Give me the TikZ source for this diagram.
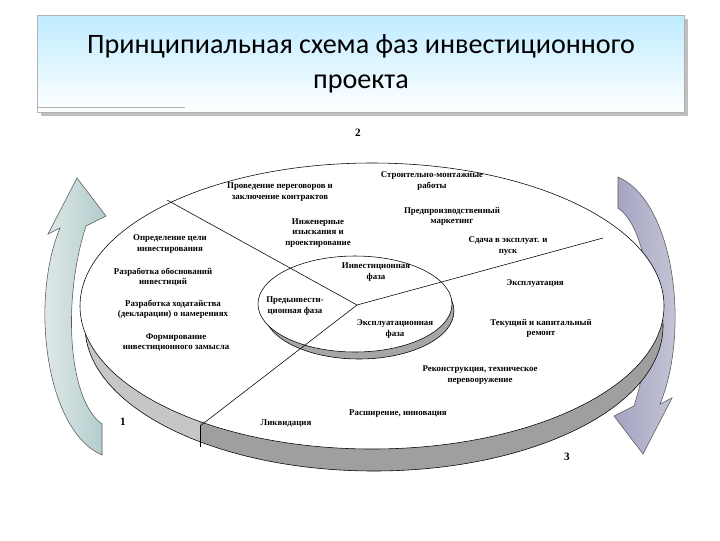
\documentclass[tikz,border=0pt]{standalone}
\usepackage{fontspec}
\setmainfont{Liberation Serif}
\newfontfamily\titlefont{Carlito}
\usetikzlibrary{calc,backgrounds,shadows}

\begin{document}
\begin{tikzpicture} [x=0.025cm, y=-0.025cm,
       phasetext/.style = {align=center, font=\fontsize{6.3}{7.2}\selectfont\bfseries,
                           inner sep=0pt},
       cyclearrow/.style 2 args = {draw=gray!70!black, thin, left color=#1, right color=#2},
       numlabel/.style = {font=\fontsize{8}{9}\selectfont\bfseries}]
	\useasboundingbox (0,0) rectangle (720,540);
	%% Title
	\node [draw=gray!60, top color=blue!30!cyan!25, bottom color=white, drop shadow,
	       minimum width=647*0.025cm, minimum height=97*0.025cm,
	       font=\titlefont\fontsize{20}{25}\selectfont, align=center] (title) at (361,64)
	       {Принципиальная схема фаз инвестиционного\\проекта};
	\coordinate (tl) at (38,107);
	\coordinate (tr) at (185,107);
	\draw [gray!60] (tl) -- (tr);
	%% Arrows
	\path [cyclearrow={cyan!10!gray!15}{cyan!20!gray!50}]
	      (102,455) .. controls (45,430) and (30,300) .. (60,228) -- (48,234)
	      -- (77,178) -- (106,216) -- (86,226)
	      .. controls (62,300) and (68,400) .. (102,424) -- cycle;
	\path [cyclearrow={blue!20!gray!60}{blue!15!gray!35}]
	      (618,177) .. controls (675,202) and (690,332) .. (660,404) -- (672,398)
	      -- (643,454) -- (614,416) -- (634,406)
	      .. controls (658,332) and (652,232) .. (618,208) -- cycle;
	%% Outer disc
	\coordinate (oc) at (372,306);
	\begin{scope}
		\clip (0,0) rectangle (200,540);
		\fill [gray!45, draw=black] (374,326) ellipse [x radius=289, y radius=145];
	\end{scope}
	\begin{scope}
		\clip (200,0) rectangle (720,540);
		\fill [gray!75, draw=black] (374,326) ellipse [x radius=289, y radius=145];
	\end{scope}
	\filldraw [fill=white, thin] (oc) ellipse [x radius=292, y radius=143];
	%% Inner disc
	\coordinate (ic) at (357,305);
	\filldraw [fill=gray!70, thin] (359,311) ellipse [x radius=95, y radius=48];
	\filldraw [fill=white, thin] (355,304) ellipse [x radius=97, y radius=48];
	%% Spokes
	\coordinate (pa) at (167,200);
	\coordinate (pb) at (603,238);
	\coordinate (pc) at (200,426);
	\draw [thin] (pa) -- (ic) -- (pb);
	\draw [thin] (ic) -- (pc);
	\draw [thin] (pc) -- (200,447);
	%% Numbers
	\node [numlabel] (n1) at (123,422) {1};
	\node [numlabel] (n2) at (358,133) {2};
	\node [numlabel] (n3) at (567,457) {3};
	%% Phase texts
	\node [phasetext] (neg) at (280,192) {Проведение переговоров и\\заключение контрактов};
	\node [phasetext] (smr) at (432,181) {Строительно-монтажные\\работы};
	\node [phasetext] (mkt) at (452,216) {Предпроизводственный\\маркетинг};
	\node [phasetext] (eng) at (318,233) {Инженерные\\изыскания и\\проектирование};
	\node [phasetext] (goal) at (170,244) {Определение цели\\инвестирования};
	\node [phasetext] (just) at (163,277) {Разработка обоснований\\инвестиций};
	\node [phasetext] (pusk) at (508,246) {Сдача в эксплуат. и\\пуск};
	\node [phasetext] (inv) at (376,272) {Инвестиционная\\фаза};
	\node [phasetext] (expl) at (535,284) {Эксплуатация};
	\node [phasetext] (decl) at (173,309) {Разработка ходатайства\\(декларации) о намерениях};
	\node [phasetext] (pre) at (295,306) {Предынвести-\\ционная фаза};
	\node [phasetext] (exf) at (395,329) {Эксплуатационная\\фаза};
	\node [phasetext] (rep) at (541,328) {Текущий и капитальный\\ремонт};
	\node [phasetext] (idea) at (176,342) {Формирование\\инвестиционного замысла};
	\node [phasetext] (rec) at (480,375) {Реконструкция, техническое\\перевооружение};
	\node [phasetext] (ext) at (398,414) {Расширение, инновация};
	\node [phasetext] (liq) at (286,423) {Ликвидация};
\end{tikzpicture}
\end{document}
